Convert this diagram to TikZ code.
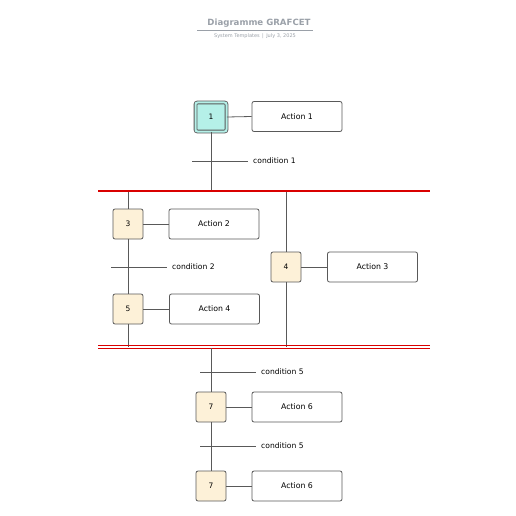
\documentclass[tikz,border=0pt]{standalone}
\usepackage{fontspec}
\setmainfont{DejaVu Sans}
\begin{document}
\begin{tikzpicture}[x=1pt,y=-1pt,
  stepbox/.style={draw=black!65, line width=0.8pt, rounded corners=2pt, fill=stepfill, minimum width=30pt, minimum height=30pt, inner sep=0pt, font=\fontsize{7.5}{8}\selectfont},
  initbox/.style={draw=black!65, line width=0.9pt, rounded corners=2pt, fill=initfill, minimum width=31pt, minimum height=29pt, inner sep=0pt, font=\fontsize{7.5}{8}\selectfont, double=initfill, double distance=2pt},
  actbox/.style={draw=black!65, line width=0.8pt, rounded corners=2pt, fill=white, minimum width=90pt, minimum height=30pt, inner sep=0pt, font=\fontsize{7.8}{9}\selectfont},
  link/.style={draw=black!65, line width=0.8pt},
  cond/.style={anchor=west, inner sep=0pt, font=\fontsize{7.6}{9}\selectfont},
  redbar/.style={draw=red!85!black, line width=1.4pt},
  redthin/.style={draw=red!85!black, line width=0.9pt}
]
\definecolor{stepfill}{HTML}{FDF1D8}
\definecolor{initfill}{HTML}{B5F0E8}
\definecolor{titlegray}{HTML}{9AA0A8}
\useasboundingbox (0,0) rectangle (516,516);
% title
\node[font=\bfseries\fontsize{8.6}{10}\selectfont, text=titlegray] (title) at (259,23) {Diagramme GRAFCET};
\coordinate (tl) at (197,30); \coordinate (tr) at (313,30);
\draw[titlegray, line width=0.5pt] (tl) -- (tr);
\node[font=\fontsize{5}{6}\selectfont, text=titlegray] (sub) at (255,36.5) {System Templates \,|\, July 3, 2025};
% step 1
\node[initbox] (s1) at (211,117) {1};
\node[actbox] (a1) at (297,116.5) {Action 1};
\draw[link] (s1.east) -- (a1.west);
% red divergence bar
\coordinate (rl) at (98,191); \coordinate (rr) at (430,191);
\coordinate (j1) at (211,191);
\draw[link] (s1.south) -- (j1);
\coordinate (t1l) at (192,161); \coordinate (t1r) at (248,161);
\draw[link] (t1l) -- (t1r);
\node[cond] (c1) at (253,161) {condition 1};
% left branch
\node[stepbox] (s3) at (128,224) {3};
\node[actbox] (a2) at (214,224) {Action 2};
\draw[link] (s3.east) -- (a2.west);
\coordinate (j3) at (128,191);
\draw[link] (j3) -- (s3.north);
\coordinate (t2l) at (111,267); \coordinate (t2r) at (167,267);
\draw[link] (t2l) -- (t2r);
\node[cond] (c2) at (172,267) {condition 2};
\node[stepbox] (s5) at (128,309) {5};
\node[actbox] (a4) at (214.5,309) {Action 4};
\draw[link] (s5.east) -- (a4.west);
\draw[link] (s3.south) -- (s5.north);
\coordinate (j5) at (128,346.5);
\draw[link] (s5.south) -- (j5);
% right branch
\node[stepbox] (s4) at (286,267) {4};
\node[actbox] (a3) at (372.5,267) {Action 3};
\draw[link] (s4.east) -- (a3.west);
\coordinate (j4) at (286,191);
\coordinate (j4b) at (286,346.5);
\draw[link] (j4) -- (s4.north);
\draw[link] (s4.south) -- (j4b);
\draw[redbar] (rl) -- (rr);
% double convergence bar
\coordinate (dl1) at (98,345); \coordinate (dr1) at (430,345);
\coordinate (dl2) at (98,348); \coordinate (dr2) at (430,348);
\draw[redthin] (dl1) -- (dr1);
\draw[redthin] (dl2) -- (dr2);
% lower sequence
\coordinate (j6) at (211,348);
\node[stepbox] (s7) at (211,407) {7};
\node[actbox] (a6) at (297,407) {Action 6};
\draw[link] (s7.east) -- (a6.west);
\draw[link] (j6) -- (s7.north);
\coordinate (t5l) at (200,372); \coordinate (t5r) at (256,372);
\draw[link] (t5l) -- (t5r);
\node[cond] (c5) at (261,372) {condition 5};
\node[stepbox] (s7b) at (211,486) {7};
\node[actbox] (a6b) at (297,486) {Action 6};
\draw[link] (s7b.east) -- (a6b.west);
\draw[link] (s7.south) -- (s7b.north);
\coordinate (t6l) at (200,446); \coordinate (t6r) at (256,446);
\draw[link] (t6l) -- (t6r);
\node[cond] (c6) at (261,446) {condition 5};
\end{tikzpicture}
\end{document}
